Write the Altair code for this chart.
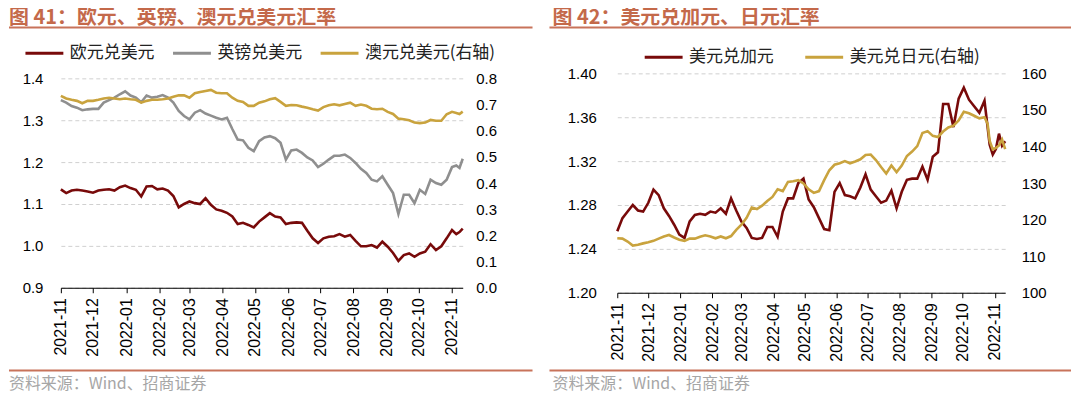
import altair as alt
import pandas as pd

# ---------------- data ----------------
dates_5d = [
    "2021-11-15", "2021-11-20", "2021-11-25", "2021-11-30", "2021-12-05", "2021-12-10", "2021-12-15", "2021-12-20", "2021-12-25", "2021-12-30",
    "2022-01-04", "2022-01-09", "2022-01-14", "2022-01-19", "2022-01-24", "2022-01-29", "2022-02-03", "2022-02-08", "2022-02-13", "2022-02-18",
    "2022-02-23", "2022-02-28", "2022-03-05", "2022-03-10", "2022-03-15", "2022-03-20", "2022-03-25", "2022-03-30", "2022-04-04", "2022-04-09",
    "2022-04-14", "2022-04-19", "2022-04-24", "2022-04-29", "2022-05-04", "2022-05-09", "2022-05-14",
    "2022-05-19", "2022-05-24", "2022-05-29", "2022-06-03", "2022-06-08", "2022-06-13", "2022-06-18", "2022-06-23", "2022-06-28", "2022-07-03",
    "2022-07-08", "2022-07-13", "2022-07-18", "2022-07-23", "2022-07-28", "2022-08-02", "2022-08-07", "2022-08-12", "2022-08-17", "2022-08-22",
    "2022-08-27", "2022-09-01", "2022-09-06", "2022-09-11", "2022-09-16", "2022-09-21", "2022-09-26", "2022-10-01", "2022-10-06", "2022-10-11",
    "2022-10-16", "2022-10-21", "2022-10-26", "2022-10-31", "2022-11-05",
]
left_dates = dates_5d + ["2022-11-10", "2022-11-15", "2022-11-19", "2022-11-22", "2022-11-25"]
right_dates = dates_5d + ["2022-11-08", "2022-11-10", "2022-11-13", "2022-11-16", "2022-11-19", "2022-11-22", "2022-11-25"]

eur_usd = [1.135, 1.126, 1.132, 1.134, 1.132, 1.130, 1.127, 1.132, 1.134, 1.135,
           1.132, 1.140, 1.144, 1.138, 1.134, 1.118, 1.142, 1.143, 1.135, 1.137,
           1.132, 1.119, 1.092, 1.100, 1.106, 1.102, 1.100, 1.114, 1.098, 1.087,
           1.084, 1.079, 1.070, 1.052, 1.055, 1.050, 1.044,
           1.058, 1.068, 1.078, 1.070, 1.068, 1.052, 1.055, 1.056, 1.055, 1.036,
           1.018, 1.007, 1.018, 1.022, 1.023, 1.028, 1.022, 1.026, 1.012, 0.999,
           0.999, 1.002, 0.996, 1.010, 0.998, 0.983, 0.964, 0.978, 0.982, 0.974,
           0.982, 0.986, 1.004, 0.990, 0.999, 1.018, 1.038,
           1.028, 1.033, 1.041]
gbp_usd = [1.348, 1.342, 1.334, 1.330, 1.324, 1.326, 1.327, 1.327, 1.342, 1.348,
           1.354, 1.362, 1.369, 1.359, 1.354, 1.343, 1.359, 1.354, 1.356, 1.360,
           1.354, 1.342, 1.322, 1.310, 1.302, 1.318, 1.324, 1.316, 1.311, 1.306,
           1.302, 1.306, 1.279, 1.254, 1.252, 1.234, 1.226,
           1.250, 1.259, 1.262, 1.257, 1.246, 1.206, 1.228, 1.230, 1.222, 1.211,
           1.204, 1.188, 1.196, 1.206, 1.215, 1.215, 1.218, 1.210, 1.198, 1.184,
           1.174, 1.158, 1.154, 1.166, 1.146, 1.126, 1.076, 1.122, 1.122, 1.102,
           1.134, 1.124, 1.158, 1.150, 1.146, 1.158, 1.188,
           1.192, 1.186, 1.208]
aud_usd = [0.733, 0.723, 0.718, 0.714, 0.705, 0.714, 0.714, 0.718, 0.723, 0.726,
           0.723, 0.720, 0.723, 0.720, 0.718, 0.707, 0.714, 0.718, 0.718, 0.720,
           0.723, 0.730, 0.735, 0.735, 0.726, 0.743, 0.748, 0.752, 0.756, 0.745,
           0.743, 0.743, 0.726, 0.714, 0.710, 0.695, 0.695,
           0.707, 0.712, 0.720, 0.724, 0.710, 0.695, 0.698, 0.697, 0.692, 0.688,
           0.682, 0.677, 0.690, 0.697, 0.701, 0.697, 0.702, 0.707, 0.695, 0.700,
           0.695, 0.684, 0.682, 0.684, 0.672, 0.664, 0.646, 0.644, 0.640, 0.631,
           0.629, 0.631, 0.641, 0.638, 0.638, 0.663, 0.672,
           0.668, 0.664, 0.673]

usd_cad = [1.256, 1.268, 1.274, 1.280, 1.275, 1.274, 1.282, 1.294, 1.289, 1.277,
           1.270, 1.262, 1.253, 1.250, 1.265, 1.271, 1.272, 1.271, 1.274, 1.273,
           1.277, 1.272, 1.286, 1.275, 1.265, 1.259, 1.250, 1.249, 1.250, 1.260,
           1.260, 1.251, 1.274, 1.286, 1.286, 1.300, 1.304,
           1.285, 1.278, 1.268, 1.258, 1.257, 1.292, 1.300, 1.289, 1.288, 1.286,
           1.296, 1.308, 1.294, 1.288, 1.282, 1.284, 1.293, 1.277, 1.292, 1.303,
           1.304, 1.304, 1.315, 1.303, 1.324, 1.328, 1.372, 1.372, 1.351, 1.377,
           1.387, 1.376, 1.370, 1.364, 1.375,
           1.351, 1.335, 1.326, 1.331, 1.345, 1.334, 1.338]
usd_jpy = [114.9, 114.8, 114.0, 112.9, 113.1, 113.5, 113.8, 114.2, 114.8, 115.4,
           115.8, 115.1, 114.5, 114.2, 114.8, 114.8, 115.3, 115.7, 115.4, 114.9,
           115.4, 114.9, 115.5, 117.2, 118.6, 120.5, 123.3, 122.9, 123.8, 125.1,
           126.2, 128.3, 127.8, 130.3, 130.5, 130.8, 129.9,
           128.3, 127.3, 127.8, 130.8, 133.5, 135.0, 135.4, 136.0, 135.4, 135.9,
           136.5, 137.7, 137.8, 136.3, 134.4, 132.6, 134.8, 133.0, 134.8, 137.4,
           138.6, 140.1, 143.7, 144.2, 142.9, 142.6, 144.1, 145.2, 145.7, 147.1,
           149.5, 149.1, 148.4, 147.7, 148.0,
           146.2, 141.5, 139.2, 139.6, 140.3, 141.9, 139.3]

month_ticks = ["2021-11-15", "2021-12-15", "2022-01-15", "2022-02-15", "2022-03-15", "2022-04-15", "2022-05-15",
               "2022-06-15", "2022-07-15", "2022-08-15", "2022-09-15", "2022-10-15", "2022-11-15"]
left_y_ticks = [0.9, 1.0, 1.1, 1.2, 1.3, 1.4]
left_y2_ticks = [0.0, 0.1, 0.2, 0.3, 0.4, 0.5, 0.6, 0.7, 0.8]
right_y_ticks = [1.20, 1.24, 1.28, 1.32, 1.36, 1.40]
right_y2_ticks = [100, 110, 120, 130, 140, 150, 160]

left_names = ["欧元兑美元", "英镑兑美元", "澳元兑美元(右轴)"]
right_names = ["美元兑加元", "美元兑日元(右轴)"]
left_title = "图 41：欧元、英镑、澳元兑美元汇率"
right_title = "图 42：美元兑加元、日元汇率"
source_text = "资料来源：Wind、招商证券"

assert len(left_dates) == len(eur_usd) == len(gbp_usd) == len(aud_usd)
assert len(right_dates) == len(usd_cad) == len(usd_jpy)

# ---------------- style ----------------
CJK = "Noto Sans CJK SC"
NUM = "Liberation Sans"
RED = "#780A0A"
GRAY = "#8F8F8F"
GOLD = "#C9A33E"
TITLE_C = "#C4694A"
RULE_C = "#C8735A"
SRC_C = "#A6A6A6"


def dt(s):
    y, m, d = (int(v) for v in s.split("-"))
    return alt.DateTime(year=y, month=m, date=d, utc=True)


def x_enc(dates):
    return alt.X(
        "date:T",
        scale=alt.Scale(type="utc", domain=[dt(dates[0]), dt(dates[-1])]),
        axis=alt.Axis(values=[dt(s) for s in month_ticks], format="%Y-%m", labelAngle=-90,
                      labelAlign="right", labelBaseline="middle", labelFont=NUM, labelFontSize=16,
                      labelColor="#000", labelPadding=5, tickSize=5, tickColor="#000", domainColor="#000",
                      domainWidth=1, grid=False, title=None, labelOverlap=False, labelFlush=False),
    )


def y_axis(values, fmt, orient, pad, grid):
    return alt.Axis(values=values, format=fmt, orient=orient, grid=grid, gridColor="#D0D0D0",
                    gridDash=[4, 3], gridWidth=1, domain=False, ticks=False, tickSize=0,
                    labelPadding=pad, labelFont=NUM, labelFontSize=15, labelColor="#000",
                    title=None, labelFlush=False)


def color_enc(names, colors, lx, ly, colpad):
    return alt.Color(
        "series:N",
        scale=alt.Scale(domain=names, range=colors),
        legend=alt.Legend(orient="none", legendX=lx, legendY=ly, direction="horizontal", title=None,
                          symbolType="stroke", symbolSize=1444, symbolStrokeWidth=3,
                          labelFont=CJK, labelFontSize=17, labelColor="#222", labelOffset=5,
                          columnPadding=colpad, padding=0, labelLimit=0),
    )


def text_layer(text, x, y, size, color, weight="normal", baseline="top"):
    return alt.Chart(pd.DataFrame({"t": [text]})).mark_text(
        align="left", baseline=baseline, fontSize=size, font=CJK, fontWeight=weight, color=color
    ).encode(text="t:N", x=alt.value(x), y=alt.value(y))


def hline(x1, x2, y, color, w):
    return alt.Chart(pd.DataFrame({"a": [0]})).mark_rule(color=color, strokeWidth=w).encode(
        x=alt.value(x1), x2=alt.value(x2), y=alt.value(y))


# ---------------- left panel ----------------
left_main = pd.DataFrame({
    "date": left_dates * 2,
    "value": eur_usd + gbp_usd,
    "series": [left_names[0]] * len(left_dates) + [left_names[1]] * len(left_dates),
})
left_sec = pd.DataFrame({"date": left_dates, "value": aud_usd, "series": [left_names[2]] * len(left_dates)})
l_colors = [RED, GRAY, GOLD]
l_leg = dict(lx=-37, ly=-46, colpad=12)

l1 = alt.Chart(left_main).mark_line(strokeWidth=2.6).encode(
    x=x_enc(left_dates),
    y=alt.Y("value:Q", scale=alt.Scale(domain=[0.9, 1.4], nice=False, zero=False),
            axis=y_axis(left_y_ticks, ".1f", "left", 18, True)),
    color=color_enc(left_names, l_colors, **l_leg),
    detail="series:N",
)
l2 = alt.Chart(left_sec).mark_line(strokeWidth=2.6).encode(
    x=x_enc(left_dates),
    y=alt.Y("value:Q", scale=alt.Scale(domain=[0.0, 0.8], nice=False, zero=False),
            axis=y_axis(left_y2_ticks, ".1f", "right", 13, False)),
    color=color_enc(left_names, l_colors, **l_leg),
)
left = alt.layer(
    l1, l2,
    text_layer(left_title, -52, -70, 20, TITLE_C, "bold"),
    hline(-52, 473, -51, RULE_C, 2),
    hline(-52, 473, 293, RULE_C, 2),
    text_layer(source_text, -52, 307, 16, SRC_C, baseline="middle"),
).resolve_scale(y="independent").properties(width=403, height=210)

# ---------------- right panel ----------------
right_main = pd.DataFrame({"date": right_dates, "value": usd_cad, "series": [right_names[0]] * len(right_dates)})
right_sec = pd.DataFrame({"date": right_dates, "value": usd_jpy, "series": [right_names[1]] * len(right_dates)})
r_colors = [RED, GOLD]
r_leg = dict(lx=26, ly=-37, colpad=25)

r1 = alt.Chart(right_main).mark_line(strokeWidth=2.6).encode(
    x=x_enc(right_dates),
    y=alt.Y("value:Q", scale=alt.Scale(domain=[1.20, 1.40], nice=False, zero=False),
            axis=y_axis(right_y_ticks, ".2f", "left", 21, True)),
    color=color_enc(right_names, r_colors, **r_leg),
)
r2 = alt.Chart(right_sec).mark_line(strokeWidth=2.6).encode(
    x=x_enc(right_dates),
    y=alt.Y("value:Q", scale=alt.Scale(domain=[100, 160], nice=False, zero=False),
            axis=y_axis(right_y2_ticks, "d", "right", 16, False)),
    color=color_enc(right_names, r_colors, **r_leg),
)
right = alt.layer(
    r1, r2,
    text_layer(right_title, -65, -65, 20, TITLE_C, "bold"),
    hline(-68, 455, -46, RULE_C, 2),
    hline(-68, 455, 298, RULE_C, 2),
    text_layer(source_text, -65, 312, 16, SRC_C, baseline="middle"),
).resolve_scale(y="independent").properties(width=389, height=220)

chart = alt.hconcat(left, right, spacing=155, bounds="flush", center=True).resolve_scale(
    color="independent").resolve_legend(color="independent").properties(
    padding=0).configure_view(stroke=None)

chart.save("out.html", embed_options={"renderer": "svg", "actions": False})
